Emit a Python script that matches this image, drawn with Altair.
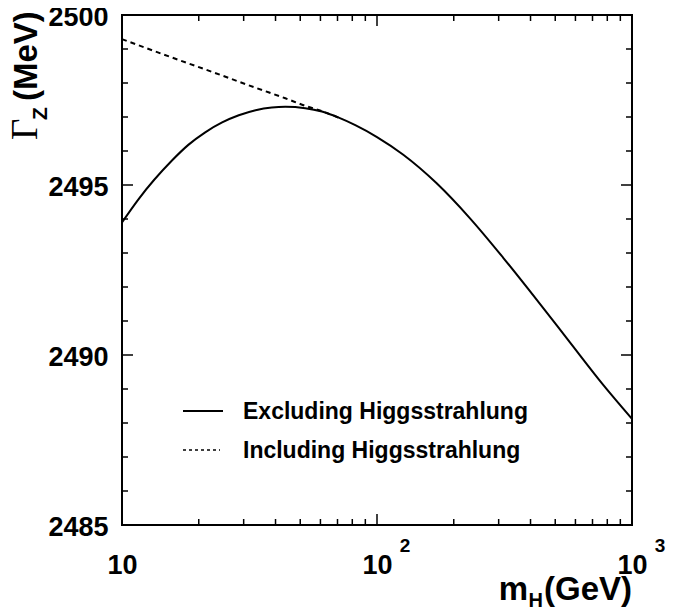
import altair as alt
import pandas as pd

# ---- data ----
m_excl = [10, 11.6, 15.7, 18.2, 21.2, 24.7, 28.7, 33.4, 38.7, 43.7, 52.3, 60.8, 70.8, 82.2,
          100, 126.8, 171.4, 231.6, 312.6, 422.6, 571, 771, 1000]
g_excl = [2493.90, 2494.58, 2495.72, 2496.18, 2496.55, 2496.84, 2497.05, 2497.20, 2497.28,
          2497.30, 2497.26, 2497.16, 2496.98, 2496.76, 2496.41, 2495.89, 2495.05, 2494.02,
          2492.86, 2491.63, 2490.37, 2489.12, 2488.12]

m_incl = [10, 15.7, 24.7, 33.4, 43.7, 52.3, 60.8, 70.8]
g_incl = [2499.29, 2498.75, 2498.22, 2497.86, 2497.55, 2497.33, 2497.17, 2496.98]

y_major = [2485, 2490, 2495, 2500]
y_minor = [v for v in range(2485, 2501) if v not in (2485, 2490, 2495, 2500)]
x_major = [10, 100, 1000]
x_minor = [20, 30, 40, 50, 60, 70, 80, 90, 200, 300, 400, 500, 600, 700, 800, 900]
x_sup = ["", "2", "3"]
legend_labels = ["Excluding Higgsstrahlung", "Including Higgsstrahlung"]

FONT = "Liberation Sans"
W = H = 510

xs = alt.Scale(type="log", domain=[10, 1000], nice=False)
ys = alt.Scale(domain=[2485, 2500], nice=False, zero=False)

df_excl = pd.DataFrame({"m": m_excl, "g": g_excl})
df_incl = pd.DataFrame({"m": m_incl, "g": g_incl})

base_x = alt.X("m:Q", scale=xs, axis=alt.Axis(
    values=x_major, labelExpr="'10'", ticks=False, domain=False, grid=False,
    labelFont=FONT, labelFontWeight="bold", labelFontSize=27, labelColor="black",
    labelPadding=27, labelFlush=False, title=None))
base_y = alt.Y("g:Q", scale=ys, axis=alt.Axis(
    values=y_major, ticks=False, domain=False, grid=False, format="d",
    labelFont=FONT, labelFontWeight="bold", labelFontSize=27, labelColor="black",
    labelPadding=14, labelOffset=2, labelFlush=False, title=None))

solid = alt.Chart(df_excl).mark_line(color="black", strokeWidth=2, interpolate="monotone").encode(
    x=base_x, y=base_y)
dashed = alt.Chart(df_incl).mark_line(color="black", strokeWidth=2, strokeDash=[5, 4],
                                      interpolate="monotone").encode(
    x=alt.X("m:Q", scale=xs), y=alt.Y("g:Q", scale=ys))

# ---- inward ticks (segments: both ends given) ----
dy_major = pd.DataFrame({"g": y_major})
dy_minor = pd.DataFrame({"g": y_minor})
dx_major = pd.DataFrame({"m": x_major})
dx_minor = pd.DataFrame({"m": x_minor})

def yticks(df, length):
    left = alt.Chart(df).mark_rule(color="black", strokeWidth=1.5).encode(
        y=alt.Y("g:Q", scale=ys), y2="g:Q", x=alt.value(0), x2=alt.value(length))
    right = alt.Chart(df).mark_rule(color="black", strokeWidth=1.5).encode(
        y=alt.Y("g:Q", scale=ys), y2="g:Q", x=alt.value(W), x2=alt.value(W - length))
    return left + right

def xticks(df, length):
    bottom = alt.Chart(df).mark_rule(color="black", strokeWidth=1.5).encode(
        x=alt.X("m:Q", scale=xs), x2="m:Q", y=alt.value(H), y2=alt.value(H - length))
    top = alt.Chart(df).mark_rule(color="black", strokeWidth=1.5).encode(
        x=alt.X("m:Q", scale=xs), x2="m:Q", y=alt.value(0), y2=alt.value(length))
    return bottom + top

ticks = yticks(dy_major, 11) + yticks(dy_minor, 6) + xticks(dx_major, 11) + xticks(dx_minor, 6)

# superscripts of x labels
sup = alt.Chart(pd.DataFrame({"m": x_major, "s": x_sup})).mark_text(
    font=FONT, fontWeight="bold", fontSize=19, align="center", baseline="top", dx=28, color="black"
).encode(x=alt.X("m:Q", scale=xs), y=alt.value(H + 12), text="s:N")

# ---- legend ----
one = pd.DataFrame({"a": [0]})
leg_solid = alt.Chart(one).mark_rule(color="black", strokeWidth=2).encode(
    x=alt.value(61), x2=alt.value(101), y=alt.value(396))
leg_dash = alt.Chart(one).mark_rule(color="black", strokeWidth=1.5, strokeDash=[3, 3]).encode(
    x=alt.value(61), x2=alt.value(98), y=alt.value(435))
leg_t1 = alt.Chart(one).mark_text(font=FONT, fontWeight="bold", fontSize=23, align="left",
                                  baseline="middle", color="black", text=legend_labels[0]).encode(
    x=alt.value(121), y=alt.value(397))
leg_t2 = alt.Chart(one).mark_text(font=FONT, fontWeight="bold", fontSize=23, align="left",
                                  baseline="middle", color="black", text=legend_labels[1]).encode(
    x=alt.value(121), y=alt.value(436))

# ---- axis titles ----
gam = alt.Chart(one).mark_text(font="Liberation Serif", fontSize=37, angle=270, align="left",
                               baseline="alphabetic", color="black", text="Γ").encode(
    x=alt.value(-85), y=alt.value(125))
zsub = alt.Chart(one).mark_text(font=FONT, fontWeight="bold", fontSize=21, angle=270, align="left",
                                baseline="alphabetic", color="black", text="Z").encode(
    x=alt.value(-75), y=alt.value(105))
mev = alt.Chart(one).mark_text(font=FONT, fontWeight="bold", fontSize=33, angle=270, align="left",
                               baseline="alphabetic", color="black", text="(MeV)").encode(
    x=alt.value(-85), y=alt.value(86))

gev = alt.Chart(one).mark_text(font=FONT, fontWeight="bold", fontSize=33, align="right",
                               baseline="alphabetic", color="black", text="(GeV)").encode(
    x=alt.value(510), y=alt.value(75 + H))
hsub = alt.Chart(one).mark_text(font=FONT, fontWeight="bold", fontSize=20, align="right",
                                baseline="alphabetic", color="black", text="H").encode(
    x=alt.value(421), y=alt.value(82 + H))
mm = alt.Chart(one).mark_text(font=FONT, fontWeight="bold", fontSize=33, align="right",
                              baseline="alphabetic", color="black", text="m").encode(
    x=alt.value(406), y=alt.value(75 + H))

chart = alt.layer(
    solid, dashed, ticks, sup, leg_solid, leg_dash, leg_t1, leg_t2,
    gam, zsub, mev, gev, hsub, mm
).properties(
    width=W, height=H,
    autosize=alt.AutoSizeParams(type="none"),
    padding={"left": 114, "top": 7, "right": 40, "bottom": 84},
    background="white",
).configure_view(stroke="black", strokeWidth=2)

chart.save("out.html", embed_options={"renderer": "svg", "actions": False})
